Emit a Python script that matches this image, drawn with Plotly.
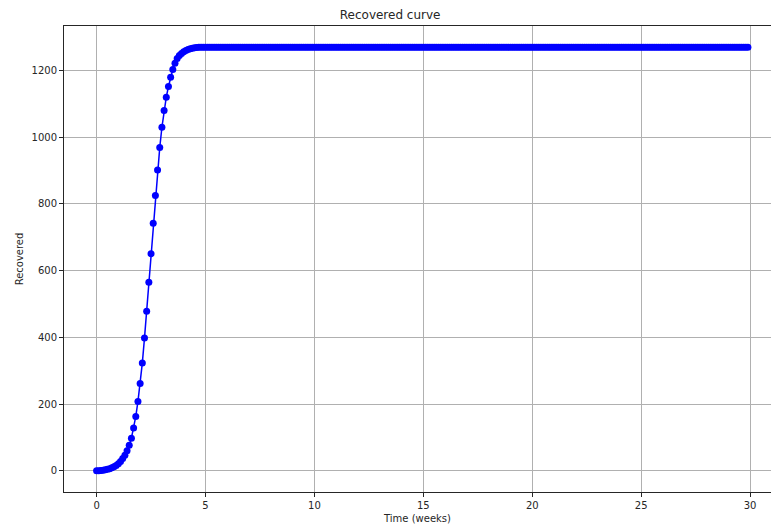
import plotly.graph_objects as go

# Time axis: samples every 0.1 week, 0.0 .. 29.9
time_weeks = [round(i * 0.1, 1) for i in range(300)]

# Recovered counts, rising phase (t = 0.0 .. 4.9)
recovered_rise = [
    0, 0.5, 1.2, 2, 3, 4.5, 6.5, 9, 12, 16,
    21, 28, 37, 47, 60, 77, 98, 128, 163, 208,
    262, 323, 398, 478, 565, 651, 742, 825, 902, 969,
    1030, 1080, 1120, 1152, 1180, 1203, 1222, 1236, 1245, 1251,
    1256, 1260, 1263, 1265, 1267, 1268, 1269, 1269.5, 1270, 1270,
]

# Recovered counts, plateau (t = 5.0 .. 29.9)
recovered_plateau = [
    1270, 1270, 1270, 1270, 1270, 1270, 1270, 1270, 1270, 1270,
    1270, 1270, 1270, 1270, 1270, 1270, 1270, 1270, 1270, 1270,
    1270, 1270, 1270, 1270, 1270, 1270, 1270, 1270, 1270, 1270,
    1270, 1270, 1270, 1270, 1270, 1270, 1270, 1270, 1270, 1270,
    1270, 1270, 1270, 1270, 1270, 1270, 1270, 1270, 1270, 1270,
    1270, 1270, 1270, 1270, 1270, 1270, 1270, 1270, 1270, 1270,
    1270, 1270, 1270, 1270, 1270, 1270, 1270, 1270, 1270, 1270,
    1270, 1270, 1270, 1270, 1270, 1270, 1270, 1270, 1270, 1270,
    1270, 1270, 1270, 1270, 1270, 1270, 1270, 1270, 1270, 1270,
    1270, 1270, 1270, 1270, 1270, 1270, 1270, 1270, 1270, 1270,
    1270, 1270, 1270, 1270, 1270, 1270, 1270, 1270, 1270, 1270,
    1270, 1270, 1270, 1270, 1270, 1270, 1270, 1270, 1270, 1270,
    1270, 1270, 1270, 1270, 1270, 1270, 1270, 1270, 1270, 1270,
    1270, 1270, 1270, 1270, 1270, 1270, 1270, 1270, 1270, 1270,
    1270, 1270, 1270, 1270, 1270, 1270, 1270, 1270, 1270, 1270,
    1270, 1270, 1270, 1270, 1270, 1270, 1270, 1270, 1270, 1270,
    1270, 1270, 1270, 1270, 1270, 1270, 1270, 1270, 1270, 1270,
    1270, 1270, 1270, 1270, 1270, 1270, 1270, 1270, 1270, 1270,
    1270, 1270, 1270, 1270, 1270, 1270, 1270, 1270, 1270, 1270,
    1270, 1270, 1270, 1270, 1270, 1270, 1270, 1270, 1270, 1270,
    1270, 1270, 1270, 1270, 1270, 1270, 1270, 1270, 1270, 1270,
    1270, 1270, 1270, 1270, 1270, 1270, 1270, 1270, 1270, 1270,
    1270, 1270, 1270, 1270, 1270, 1270, 1270, 1270, 1270, 1270,
    1270, 1270, 1270, 1270, 1270, 1270, 1270, 1270, 1270, 1270,
    1270, 1270, 1270, 1270, 1270, 1270, 1270, 1270, 1270, 1270,
]

recovered = recovered_rise + recovered_plateau

x_ticks = [0, 5, 10, 15, 20, 25, 30]
y_ticks = [0, 200, 400, 600, 800, 1000, 1200]

FONT = "DejaVu Sans"

fig = go.Figure()
fig.add_trace(go.Scatter(
    x=time_weeks,
    y=recovered,
    mode="lines+markers",
    line=dict(color="#0000ff", width=1.5),
    marker=dict(color="#0000ff", size=7),
    showlegend=False,
))

fig.update_layout(
    width=771,
    height=528,
    margin=dict(l=64, r=0, t=26, b=36),
    paper_bgcolor="white",
    plot_bgcolor="white",
    font=dict(family=FONT, size=10, color="#262626"),
    title=dict(
        text="Recovered curve",
        x=0.506,
        xanchor="center",
        y=0.972,
        yanchor="middle",
        font=dict(family=FONT, size=12, color="#262626"),
    ),
    xaxis=dict(
        range=[-1.495, 30.96],
        tickvals=x_ticks,
        ticks="outside",
        ticklen=4,
        tickcolor="#262626",
        showgrid=True,
        gridcolor="#b0b0b0",
        gridwidth=1,
        zeroline=False,
        showline=True,
        linecolor="#262626",
        linewidth=1,
        mirror=True,
        title=dict(text="Time (weeks)", standoff=4,
                   font=dict(family=FONT, size=10, color="#262626")),
    ),
    yaxis=dict(
        range=[-63.5, 1333.5],
        tickvals=y_ticks,
        ticks="outside",
        ticklen=4,
        tickcolor="#262626",
        showgrid=True,
        gridcolor="#b0b0b0",
        gridwidth=1,
        zeroline=False,
        showline=True,
        linecolor="#262626",
        linewidth=1,
        title=dict(text="Recovered", standoff=6,
                   font=dict(family=FONT, size=10, color="#262626")),
    ),
)

fig.write_html("out.html")
